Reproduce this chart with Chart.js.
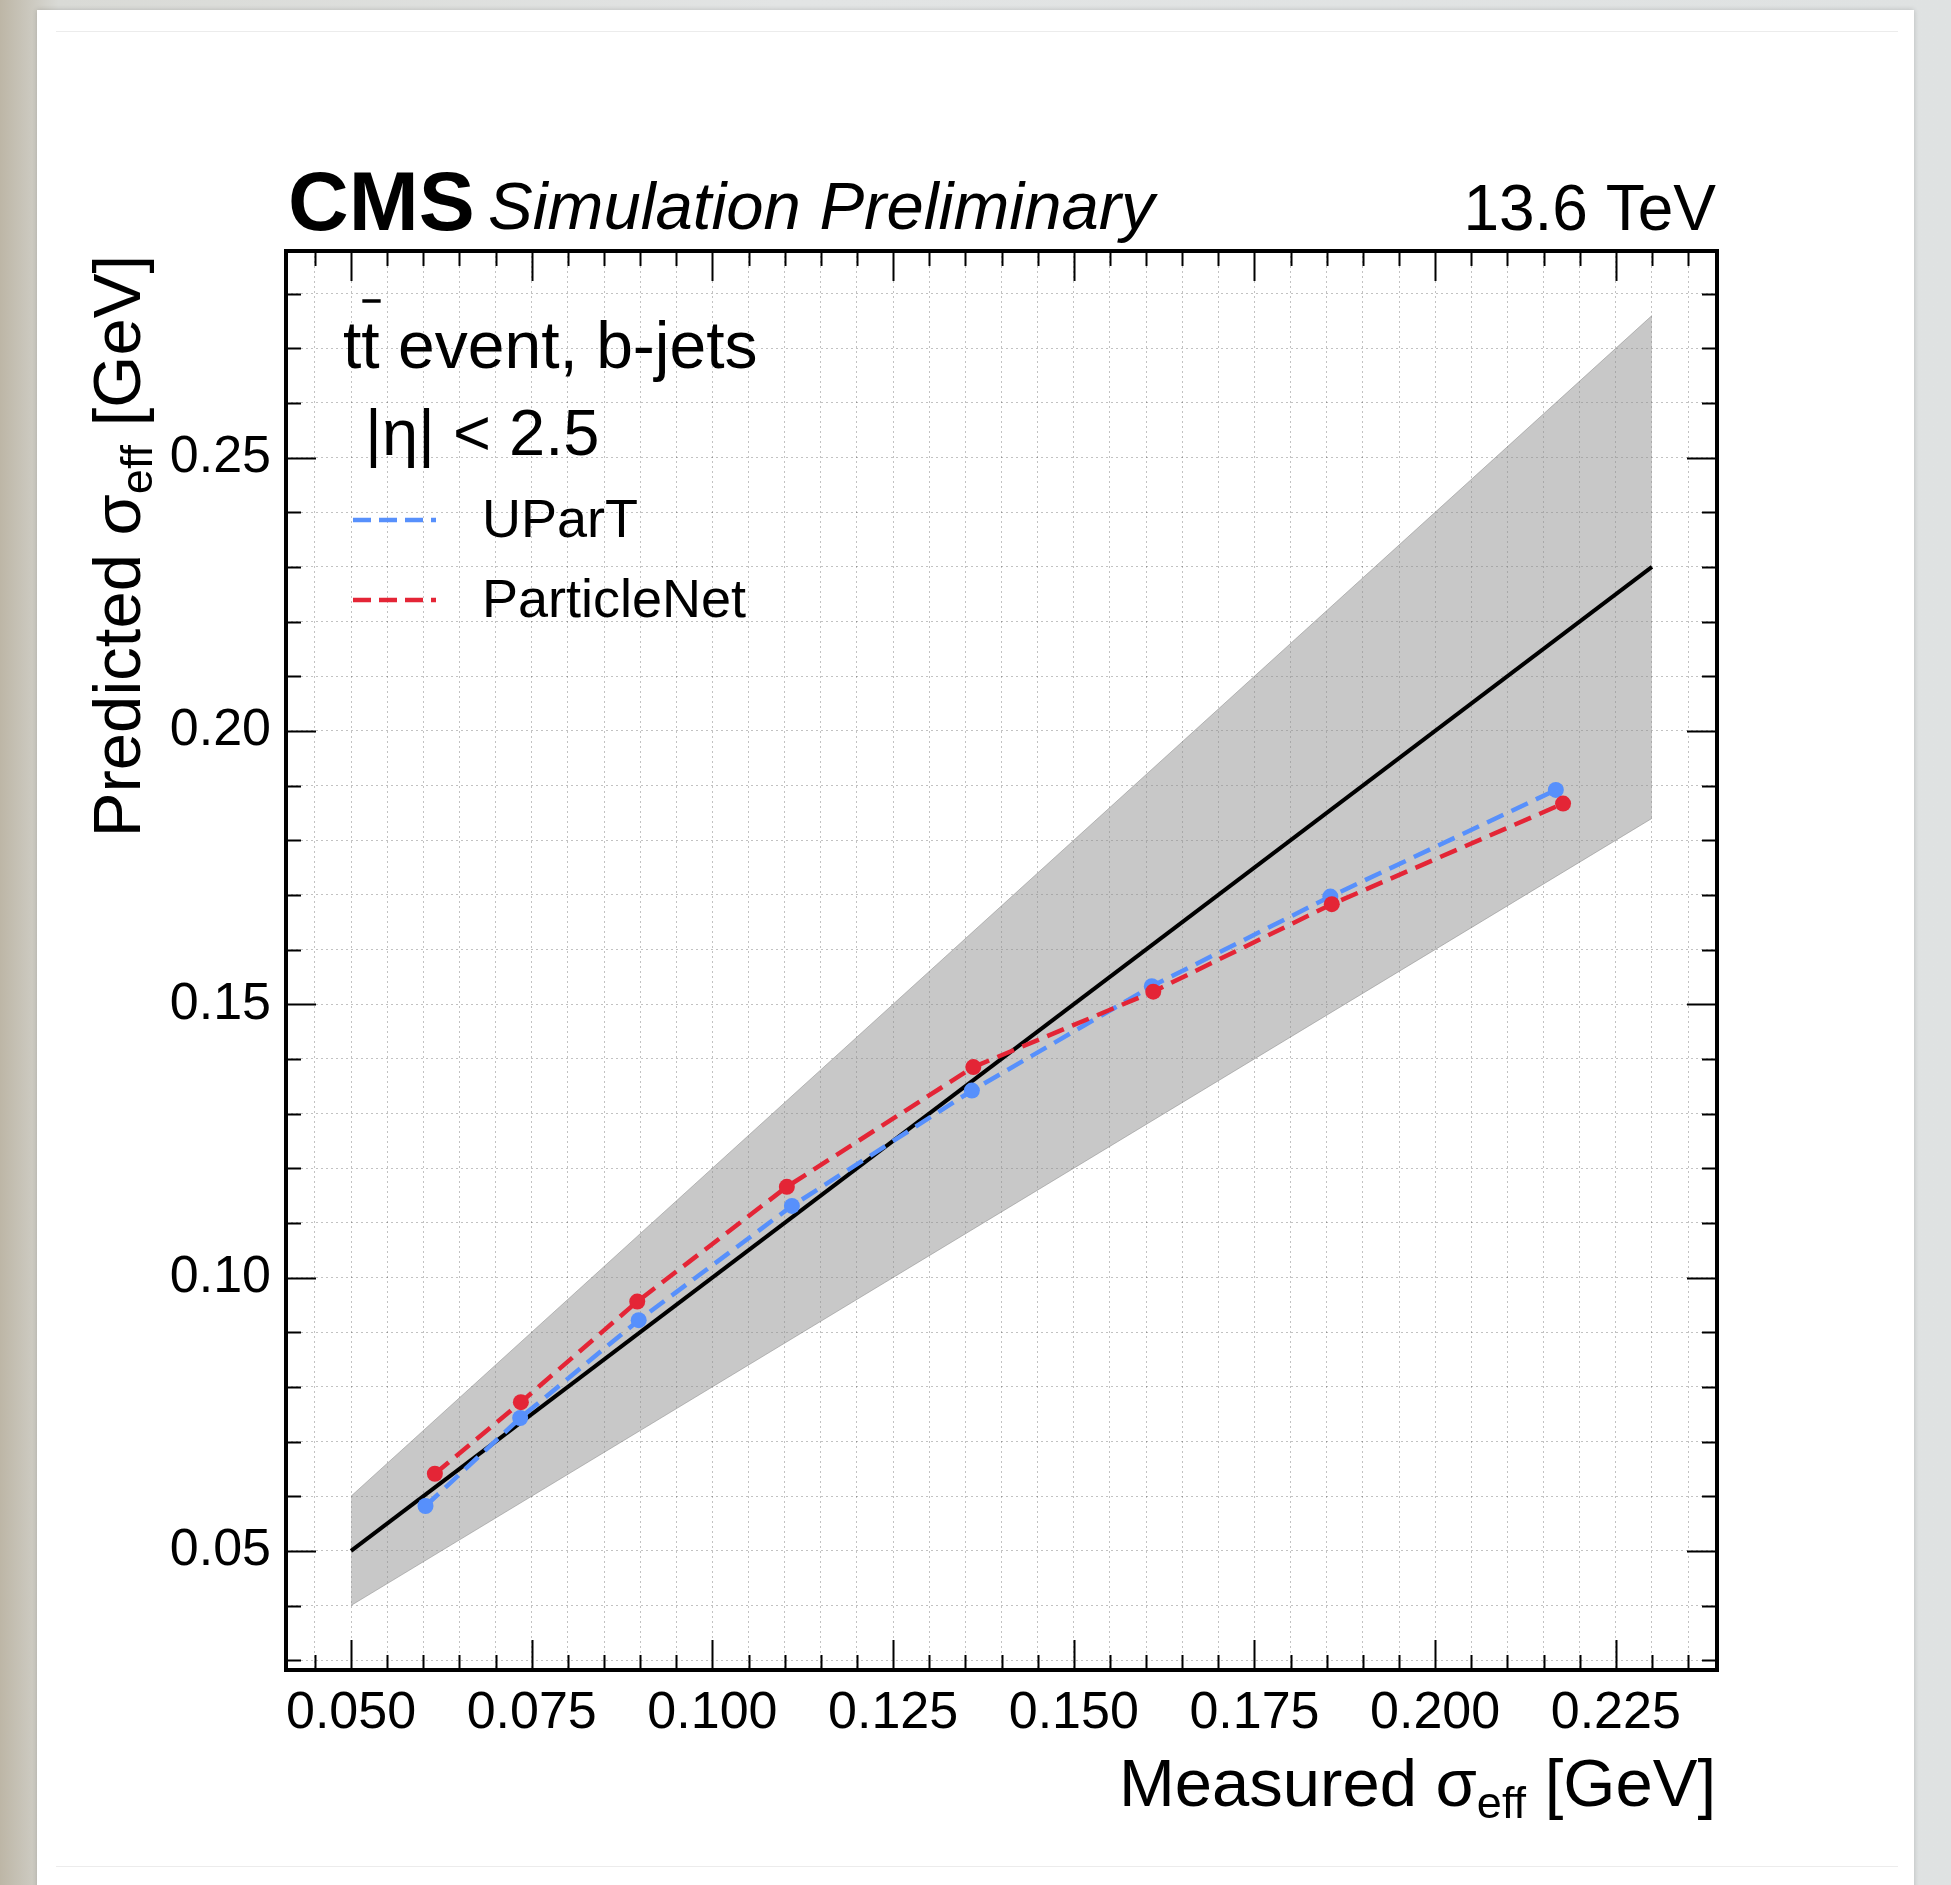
<!DOCTYPE html>
<html>
<head>
<meta charset="utf-8">
<title>Predicted vs measured sigma_eff</title>
<script src="https://cdn.jsdelivr.net/npm/chart.js@4.4.1/dist/chart.umd.min.js"></script>
<style>
  html, body { margin: 0; padding: 0; }
  body {
    width: 1951px; height: 1885px; overflow: hidden; position: relative;
    background: linear-gradient(90deg, #bdb6a6 0%, #d9dad6 3%, #e2e4e4 40%, #dfe2e2 100%);
  }
  .card {
    position: absolute; left: 37px; top: 10px; width: 1877px; height: 1900px;
    background: #fff; box-shadow: 0 0 5px rgba(0, 0, 0, 0.18);
  }
  .rule { position: absolute; left: 19px; width: 1842px; height: 1px; background: #ececec; }
  canvas { position: absolute; left: 0; top: 0; }
</style>
</head>
<body>
<div class="card">
  <div class="rule" style="top: 21px"></div>
  <div class="rule" style="top: 1856px"></div>
</div>
<canvas id="sigmaChart" width="1951" height="1885"></canvas>
<script>
'use strict';

// values
const uparX = [0.0603, 0.0734, 0.0898, 0.1110, 0.1359, 0.1608, 0.1855, 0.2167];
const uparY = [0.0582, 0.0743, 0.0922, 0.1131, 0.1342, 0.1533, 0.1697, 0.1892];
const pnetX = [0.0616, 0.0735, 0.0896, 0.1103, 0.1361, 0.1610, 0.1857, 0.2177];
const pnetY = [0.0641, 0.0772, 0.0956, 0.1166, 0.1385, 0.1523, 0.1683, 0.1867];

// y = x line and the +-20 % band
const bandX = [0.05, 0.23];
const diagY = [0.05, 0.23];
const bandUpper = [0.060, 0.276];
const bandLower = [0.040, 0.184];

const xTickLabels = ['0.050', '0.075', '0.100', '0.125', '0.150', '0.175', '0.200', '0.225'];
const yTickLabels = ['0.05', '0.10', '0.15', '0.20', '0.25'];

const FONT = '"Liberation Sans", Arial, Helvetica, sans-serif';
const blue = '#5790fc';
const red = '#e42536';

const pts = (xs, ys) => xs.map((x, i) => ({ x: x, y: ys[i] }));

// draws text made of pieces, some of them lowered as subscripts
function drawRich(ctx, pieces, x, y, align) {
  let total = 0;
  pieces.forEach(p => {
    ctx.font = p.font;
    p.w = ctx.measureText(p.t).width;
    total += p.w;
  });
  let cx = align === 'right' ? x - total : x;
  ctx.textAlign = 'left';
  ctx.textBaseline = 'alphabetic';
  pieces.forEach(p => {
    ctx.font = p.font;
    ctx.fillText(p.t, cx, y + (p.dy || 0));
    cx += p.w;
  });
}

const cmsStyle = {
  id: 'cmsStyle',
  afterDraw(chart) {
    const { ctx, chartArea: a, scales } = chart;
    const xs = scales.x, ys = scales.y;
    ctx.save();
    ctx.fillStyle = '#000';
    ctx.strokeStyle = '#000';

    // inward ticks on all four sides
    ctx.lineWidth = 2;
    ctx.beginPath();
    xs.ticks.forEach(t => {
      const px = Math.round(xs.getPixelForValue(t.value)) + 0.5;
      const len = t.label ? 30 : 15;
      ctx.moveTo(px, a.bottom); ctx.lineTo(px, a.bottom - len);
      ctx.moveTo(px, a.top); ctx.lineTo(px, a.top + len);
    });
    ys.ticks.forEach(t => {
      const py = Math.round(ys.getPixelForValue(t.value)) + 0.5;
      const len = t.label ? 30 : 15;
      ctx.moveTo(a.left, py); ctx.lineTo(a.left + len, py);
      ctx.moveTo(a.right, py); ctx.lineTo(a.right - len, py);
    });
    ctx.stroke();

    // frame
    ctx.lineWidth = 4;
    ctx.strokeRect(a.left, a.top, a.right - a.left, a.bottom - a.top);

    // header
    ctx.textBaseline = 'alphabetic';
    ctx.textAlign = 'left';
    ctx.font = 'bold 84px ' + FONT;
    ctx.fillText('CMS', a.left + 2, 230);
    ctx.font = 'italic 67px ' + FONT;
    ctx.fillText('Simulation Preliminary', 488, 229);
    ctx.textAlign = 'right';
    ctx.font = '64px ' + FONT;
    ctx.fillText('13.6 TeV', a.right - 1, 230);

    // axis titles
    const big = '67px ' + FONT, sub = '45px ' + FONT;
    drawRich(ctx, [
      { t: 'Measured \u03c3', font: big },
      { t: 'eff', font: sub, dy: 12 },
      { t: ' [GeV]', font: big }
    ], a.right - 1, 1806, 'right');
    ctx.save();
    ctx.translate(140, a.top + 4);
    ctx.rotate(-Math.PI / 2);
    drawRich(ctx, [
      { t: 'Predicted \u03c3', font: big },
      { t: 'eff', font: sub, dy: 12 },
      { t: ' [GeV]', font: big }
    ], 0, 0, 'right');
    ctx.restore();

    // selection text
    ctx.textAlign = 'left';
    ctx.font = '66px ' + FONT;
    const tw = ctx.measureText('t').width;
    ctx.fillText('tt event, b-jets', 343, 368);
    ctx.lineWidth = 3.5;
    ctx.beginPath();
    ctx.moveTo(343 + tw + 1, 301);
    ctx.lineTo(343 + 2 * tw + 1, 301);
    ctx.stroke();
    ctx.font = '65px ' + FONT;
    ctx.fillText('|\u03b7| < 2.5', 365, 455);

    // legend
    ctx.font = '54px ' + FONT;
    [[blue, 'UParT', 520], [red, 'ParticleNet', 600]].forEach(([c, txt, y]) => {
      ctx.strokeStyle = c;
      ctx.lineWidth = 4.5;
      ctx.setLineDash([18, 8]);
      ctx.beginPath();
      ctx.moveTo(353, y); ctx.lineTo(436, y);
      ctx.stroke();
      ctx.setLineDash([]);
      ctx.fillStyle = '#000';
      ctx.textBaseline = 'middle';
      ctx.fillText(txt, 482, y + 2);
    });
    ctx.restore();
  }
};

document.addEventListener('DOMContentLoaded', function () {
  const ctx = document.getElementById('sigmaChart').getContext('2d');

  const gridOpts = { color: 'rgba(0, 0, 0, 0.24)', lineWidth: 1, drawTicks: false };

  new Chart(ctx, {
    type: 'scatter',
    data: {
      datasets: [
        {
          label: 'ParticleNet',
          data: pts(pnetX, pnetY),
          showLine: true,
          borderColor: red,
          backgroundColor: red,
          borderWidth: 4.5,
          borderDash: [18, 9],
          pointRadius: 8,
          pointBorderWidth: 0,
          order: 0
        },
        {
          label: 'UParT',
          data: pts(uparX, uparY),
          showLine: true,
          borderColor: blue,
          backgroundColor: blue,
          borderWidth: 4.5,
          borderDash: [18, 9],
          pointRadius: 8,
          pointBorderWidth: 0,
          order: 1
        },
        {
          label: 'y = x',
          data: pts(bandX, diagY),
          showLine: true,
          borderColor: '#000',
          borderWidth: 4,
          pointRadius: 0,
          order: 2
        },
        {
          label: 'band low',
          data: pts(bandX, bandLower),
          showLine: true,
          borderColor: 'rgba(120, 120, 120, 0.45)',
          borderWidth: 1,
          pointRadius: 0,
          fill: false,
          order: 4
        },
        {
          label: 'band high',
          data: pts(bandX, bandUpper),
          showLine: true,
          borderColor: 'rgba(120, 120, 120, 0.45)',
          borderWidth: 1,
          pointRadius: 0,
          fill: '-1',
          backgroundColor: 'rgba(140, 140, 140, 0.48)',
          order: 3
        }
      ]
    },
    options: {
      responsive: false,
      animation: false,
      layout: { padding: { top: 251, right: 234, bottom: 0, left: 0 } },
      plugins: {
        legend: { display: false },
        tooltip: { enabled: false }
      },
      scales: {
        x: {
          type: 'linear',
          min: 0.041,
          max: 0.239,
          afterFit(s) { s.height = 215; },
          ticks: {
            stepSize: 0.005,
            includeBounds: false,
            autoSkip: false,
            maxRotation: 0,
            padding: 12,
            color: '#000',
            font: { family: FONT, size: 52 },
            callback: function (v) {
              const s = Number(v).toFixed(3);
              return xTickLabels.includes(s) ? s : '';
            }
          },
          grid: gridOpts,
          border: { display: false, dash: [2, 3] }
        },
        y: {
          type: 'linear',
          min: 0.0282,
          max: 0.2878,
          afterFit(s) { s.width = 286; },
          ticks: {
            stepSize: 0.01,
            includeBounds: false,
            autoSkip: false,
            padding: 15,
            color: '#000',
            font: { family: FONT, size: 52 },
            callback: function (v) {
              const s = Number(v).toFixed(2);
              return yTickLabels.includes(s) ? s : '';
            }
          },
          grid: gridOpts,
          border: { display: false, dash: [2, 3] }
        }
      }
    },
    plugins: [cmsStyle]
  });
});
</script>
</body>
</html>
